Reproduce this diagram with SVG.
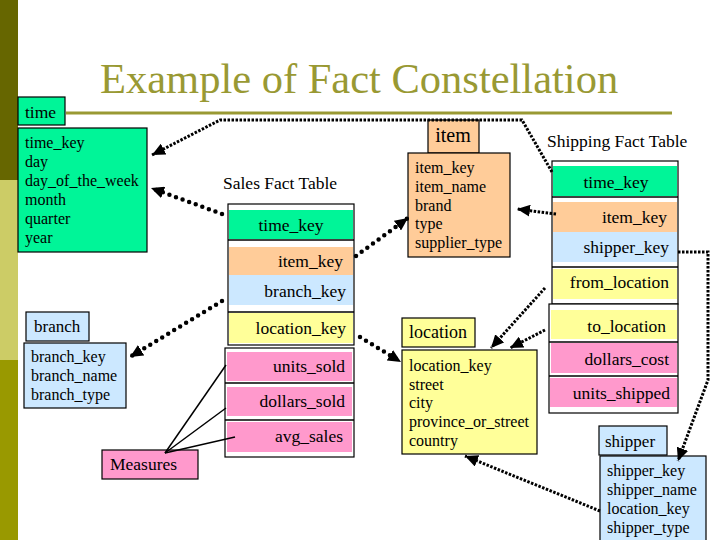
<svg xmlns="http://www.w3.org/2000/svg" width="720" height="540" viewBox="0 0 720 540">
<style>
.t16{font-size:16px}
.t17{font-size:17.5px}
.r{text-anchor:end}
.c{text-anchor:middle}
.box{stroke:#000;stroke-width:1.2}
.frame{fill:#fff;stroke:#000;stroke-width:1.2}
.sep{stroke:#000;stroke-width:1.5}
.g{fill:#00F598}.o{fill:#FFCC99}.b{fill:#CCE8FF}.y{fill:#FFFF99}.p{fill:#FF99CC}
.thick{fill:none;stroke:#000;stroke-width:4.5;stroke-dasharray:0 7;stroke-linecap:round}
.thin{fill:none;stroke:#000;stroke-width:3;stroke-dasharray:2.5 1.5}
.solid{fill:none;stroke:#000;stroke-width:1.5}
</style>
<defs>
<marker id="ah" markerUnits="userSpaceOnUse" markerWidth="14" markerHeight="12" refX="13" refY="6" orient="auto">
<path d="M0,0 L13,6 L0,12 z" fill="#000"/>
</marker>
</defs>
<g font-family="'Liberation Serif', 'Times New Roman', serif" fill="#000">
<g id="background">
<rect x="0" y="0" width="18" height="180" fill="#666600"/>
<rect x="0" y="180" width="18" height="180" fill="#CCCC66"/>
<rect x="0" y="360" width="18" height="180" fill="#999900"/>
<text x="100" y="93" font-size="42.5" fill="#999933">Example of Fact Constellation</text>
<line x1="66" y1="113" x2="672" y2="113" stroke="#999933" stroke-width="3"/>
</g>
<g id="time">
<rect class="box g" x="18" y="97" width="47" height="28"/>
<text class="t17" x="25" y="118">time</text>
<rect class="box g" x="18" y="128" width="129" height="124"/>
<text class="t16" x="25" y="148">time_key</text>
<text class="t16" x="25" y="167">day</text>
<text class="t16" x="25" y="186">day_of_the_week</text>
<text class="t16" x="25" y="205">month</text>
<text class="t16" x="25" y="224">quarter</text>
<text class="t16" x="25" y="243">year</text>
</g>
<g id="sales">
<text x="223" y="189" font-size="17.5">Sales Fact Table</text>
<rect class="frame" x="228" y="204" width="126" height="141"/>
<rect class="g" x="229" y="210" width="124" height="29"/>
<line class="sep" x1="228" y1="240" x2="354" y2="240"/>
<rect class="o" x="229" y="247" width="124" height="28"/>
<rect class="b" x="229" y="275" width="124" height="30"/>
<line class="sep" x1="228" y1="312" x2="354" y2="312"/>
<rect class="y" x="229" y="313" width="124" height="30"/>
<rect class="frame" x="225" y="348" width="129" height="109"/>
<rect class="p" x="227" y="352" width="125" height="29"/>
<line class="sep" x1="225" y1="383" x2="354" y2="383"/>
<rect class="p" x="227" y="387" width="125" height="29"/>
<line class="sep" x1="225" y1="420" x2="354" y2="420"/>
<rect class="p" x="227" y="422" width="125" height="30"/>
<text class="t17 c" x="291" y="231">time_key</text>
<text class="t17 r" x="343" y="267">item_key</text>
<text class="t17 r" x="346" y="297">branch_key</text>
<text class="t17 r" x="346" y="334">location_key</text>
<text class="t17 r" x="345" y="372">units_sold</text>
<text class="t17 r" x="345" y="407">dollars_sold</text>
<text class="t17 r" x="343" y="442">avg_sales</text>
</g>
<g id="item">
<rect class="box o" x="428" y="120" width="51" height="33"/>
<text x="453" y="142" font-size="20" text-anchor="middle">item</text>
<rect class="box o" x="408" y="153" width="102" height="104"/>
<text class="t16" x="415" y="173">item_key</text>
<text class="t16" x="415" y="192">item_name</text>
<text class="t16" x="415" y="211">brand</text>
<text class="t16" x="415" y="229">type</text>
<text class="t16" x="415" y="248">supplier_type</text>
</g>
<g id="shipping">
<text x="547" y="147" font-size="17.5">Shipping Fact Table</text>
<rect class="frame" x="552" y="161" width="126" height="143"/>
<rect class="g" x="553" y="166" width="124" height="30"/>
<line class="sep" x1="552" y1="197" x2="678" y2="197"/>
<rect class="o" x="553" y="202" width="124" height="30"/>
<rect class="b" x="553" y="232" width="124" height="30"/>
<line class="sep" x1="552" y1="267" x2="678" y2="267"/>
<rect class="y" x="553" y="269" width="124" height="30"/>
<rect class="frame" x="549" y="304" width="129" height="109"/>
<rect class="y" x="551" y="310" width="126" height="29"/>
<line class="sep" x1="549" y1="342" x2="678" y2="342"/>
<rect class="p" x="551" y="343" width="126" height="30"/>
<line class="sep" x1="549" y1="376" x2="678" y2="376"/>
<rect class="p" x="550" y="378" width="127" height="29"/>
<text class="t17 c" x="616" y="188">time_key</text>
<text class="t17 r" x="667" y="223">item_key</text>
<text class="t17 r" x="669" y="253">shipper_key</text>
<text class="t17 r" x="669" y="288">from_location</text>
<text class="t17 r" x="666" y="332">to_location</text>
<text class="t17 r" x="669" y="365">dollars_cost</text>
<text class="t17 r" x="670" y="399">units_shipped</text>
</g>
<g id="location">
<rect class="box y" x="402" y="318" width="73" height="29"/>
<text x="409" y="338" font-size="18">location</text>
<rect class="box y" x="402" y="350" width="135" height="104"/>
<text class="t16" x="409" y="371">location_key</text>
<text class="t16" x="409" y="390">street</text>
<text class="t16" x="409" y="408">city</text>
<text class="t16" x="409" y="427">province_or_street</text>
<text class="t16" x="409" y="446">country</text>
</g>
<g id="branch">
<rect class="box b" x="26" y="312" width="63" height="29"/>
<text x="34" y="332" font-size="17">branch</text>
<rect class="box b" x="24" y="343" width="102" height="65"/>
<text class="t16" x="31" y="362">branch_key</text>
<text class="t16" x="31" y="381">branch_name</text>
<text class="t16" x="31" y="400">branch_type</text>
</g>
<g id="shipper">
<rect class="box b" x="599" y="426" width="68" height="29"/>
<text x="605" y="447" font-size="17">shipper</text>
<rect class="box b" x="600" y="456" width="106" height="90"/>
<text class="t16" x="607" y="476">shipper_key</text>
<text class="t16" x="607" y="495">shipper_name</text>
<text class="t16" x="607" y="514">location_key</text>
<text class="t16" x="607" y="533">shipper_type</text>
</g>
<g id="measures">
<rect class="box p" x="102" y="450" width="96" height="29"/>
<text x="110" y="470" font-size="17.5">Measures</text>
</g>
</g>
<g id="connectors">
<path class="solid" d="M165,453 L226,365"/>
<path class="solid" d="M165,453 L226,408"/>
<path class="solid" d="M165,453 L235,437"/>
<path class="thick" d="M222,214 L151,188" marker-end="url(#ah)"/>
<path class="thin" d="M552,172 L522,120 L220,120 L152,155" marker-end="url(#ah)"/>
<path class="thick" d="M356,256 L408,218" marker-end="url(#ah)"/>
<path class="thin" d="M556,214 L517,209" marker-end="url(#ah)"/>
<path class="thick" d="M222,301 L130,357" marker-end="url(#ah)"/>
<path class="thick" d="M360,337 L401,362" marker-end="url(#ah)"/>
<path class="thin" d="M545,288 L491,348" marker-end="url(#ah)"/>
<path class="thin" d="M545,330 L510,348" marker-end="url(#ah)"/>
<path class="thin" d="M678,252 L708,252 L708,380 L678,461" marker-end="url(#ah)"/>
<path class="thin" d="M600,511 L465,456" marker-end="url(#ah)"/>
</g>
</svg>
